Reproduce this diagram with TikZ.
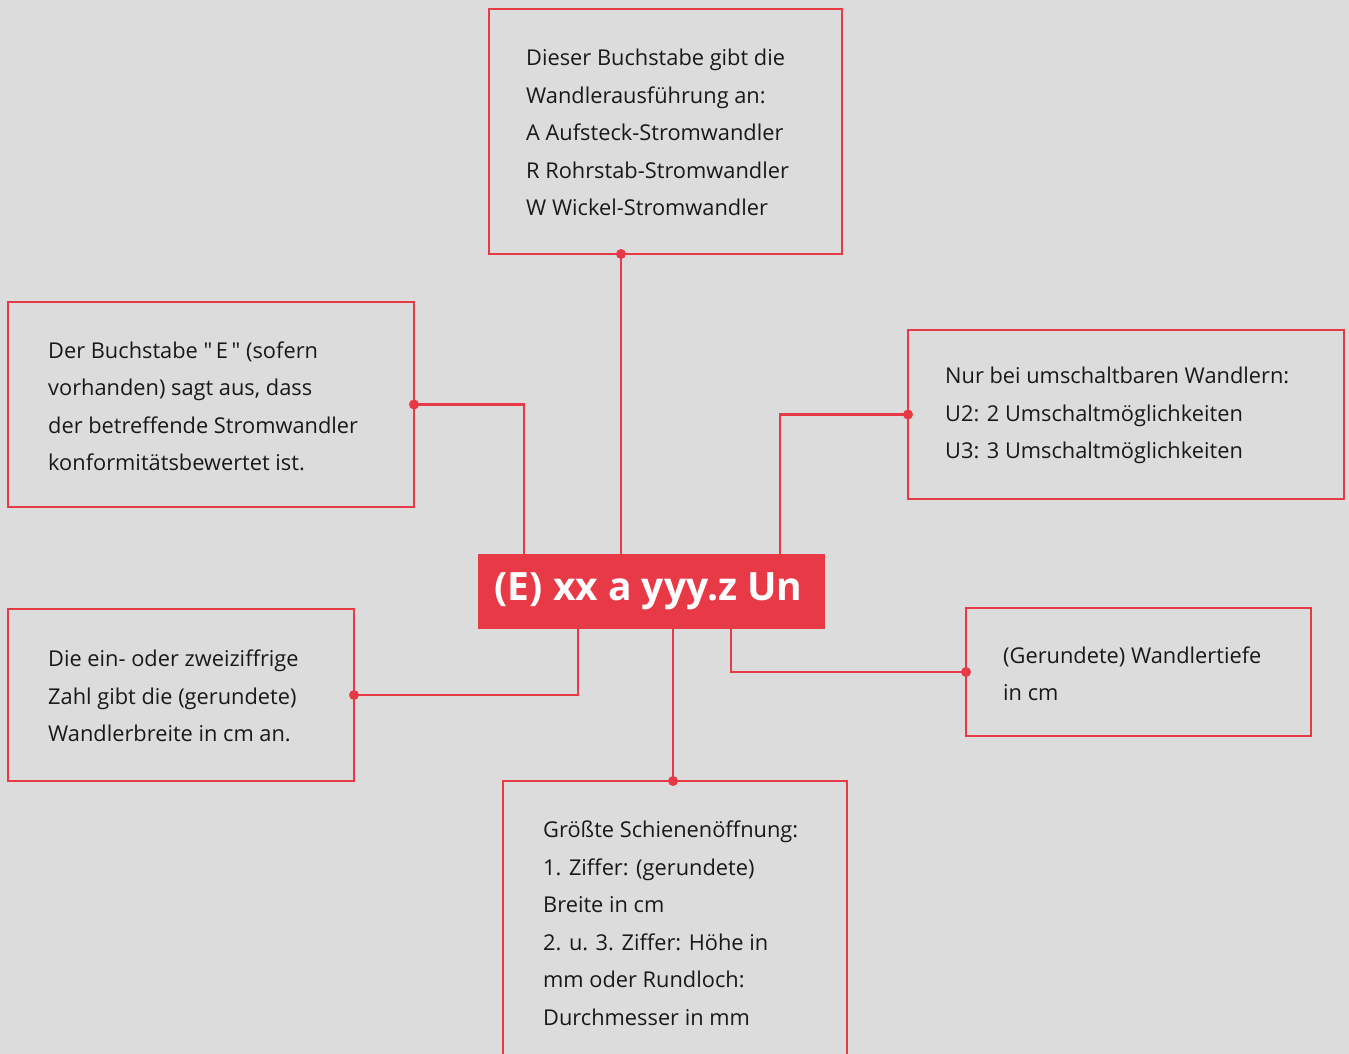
\documentclass[tikz,border=0pt]{standalone}
\usepackage{fontspec}
\setmainfont{Open Sans}
\newfontfamily\qfont{Open Sans}[Ligatures=ResetAll]
\usetikzlibrary{calc}
\definecolor{bg}{RGB}{220,220,220}
\definecolor{redc}{RGB}{232,57,70}
\definecolor{txt}{RGB}{25,25,25}
\begin{document}
\begin{tikzpicture}[x=1pt,y=-1pt,
  box/.style={draw=redc, line width=2.5pt, inner sep=0pt, outer sep=0pt, anchor=north west},
  desc/.style={anchor=west, inner sep=0pt, align=left, text=txt, font=\fontsize{21.8}{37.5}\selectfont},
  conn/.style={draw=redc, line width=2.5pt},
  dot/.style={fill=redc}]
\useasboundingbox (0,0) rectangle (1349,1054);
\fill[bg] (0,0) rectangle (1349,1054);
\clip (0,0) rectangle (1349,1054);

% boxes
\node[box, minimum width=353, minimum height=245] (top) at (489,9) {};
\node[box, minimum width=406, minimum height=205] (lt) at (8,302) {};
\node[box, minimum width=436, minimum height=169] (rt) at (908,330) {};
\node[box, minimum width=346, minimum height=172] (lb) at (8,609) {};
\node[box, minimum width=345, minimum height=128] (rb) at (966,608) {};
\node[box, minimum width=344, minimum height=290] (bot) at (503,781) {};
\node[box, draw=none, fill=redc, minimum width=347, minimum height=75, text=white,
      font=\fontsize{39}{40}\selectfont\bfseries] (code) at (478,554) {\raisebox{-4pt}{(E) xx a yyy.z Un}\hspace*{6pt}};

% texts
\node[desc] (ttop) at ($(top.west)+(37,1)$) {Dieser Buchstabe gibt die\\Wandlerausführung an:\\A Aufsteck-Stromwandler\\R Rohrstab-Stromwandler\\W Wickel-Stromwandler};
\node[desc] (tlt) at ($(lt.west)+(40,2)$) {Der Buchstabe {\qfont"}\,E\,{\qfont"} (sofern\\vorhanden) sagt aus, dass\\der betreffende Stromwandler\\konformitätsbewertet ist.};
\node[desc] (trt) at ($(rt.west)+(37,1)$) {Nur bei umschaltbaren Wandlern:\\U2: 2 Umschaltmöglichkeiten\\U3: 3 Umschaltmöglichkeiten};
\node[desc] (tlb) at ($(lb.west)+(40,1)$) {Die ein- oder zweiziffrige\\Zahl gibt die (gerundete)\\Wandlerbreite in cm an.};
\node[desc] (trb) at ($(rb.west)+(37,2)$) {(Gerundete) Wandlertiefe\\in cm};
\node[desc, anchor=north west] (tbot) at ($(bot.north west)+(40,40)$) {Größte Schienenöffnung:\\1. Ziffer: (gerundete)\\Breite in cm\\2. u. 3. Ziffer: Höhe in\\mm oder Rundloch:\\Durchmesser in mm};

% connectors
\draw[conn] (top.south west) ++(132,0) coordinate (p1) -- (p1 |- code.north);
\fill[dot] (p1) circle (5);
\coordinate (p2) at ($(code.north west)+(46,0)$);
\draw[conn] (lt.east) -| (p2);
\fill[dot] (lt.east) circle (5);
\coordinate (p3) at ($(code.north west)+(302,0)$);
\draw[conn] (rt.west) -| (p3);
\fill[dot] (rt.west) circle (5);
\coordinate (p4) at ($(code.south west)+(100,0)$);
\draw[conn] (lb.east) -| (p4);
\fill[dot] (lb.east) circle (5);
\draw[conn] (bot.north west) ++(170,0) coordinate (p5) -- (p5 |- code.south);
\fill[dot] (p5) circle (5);
\coordinate (p6) at ($(code.south west)+(253,0)$);
\draw[conn] (rb.west) -| (p6);
\fill[dot] (rb.west) circle (5);
\end{tikzpicture}
\end{document}
